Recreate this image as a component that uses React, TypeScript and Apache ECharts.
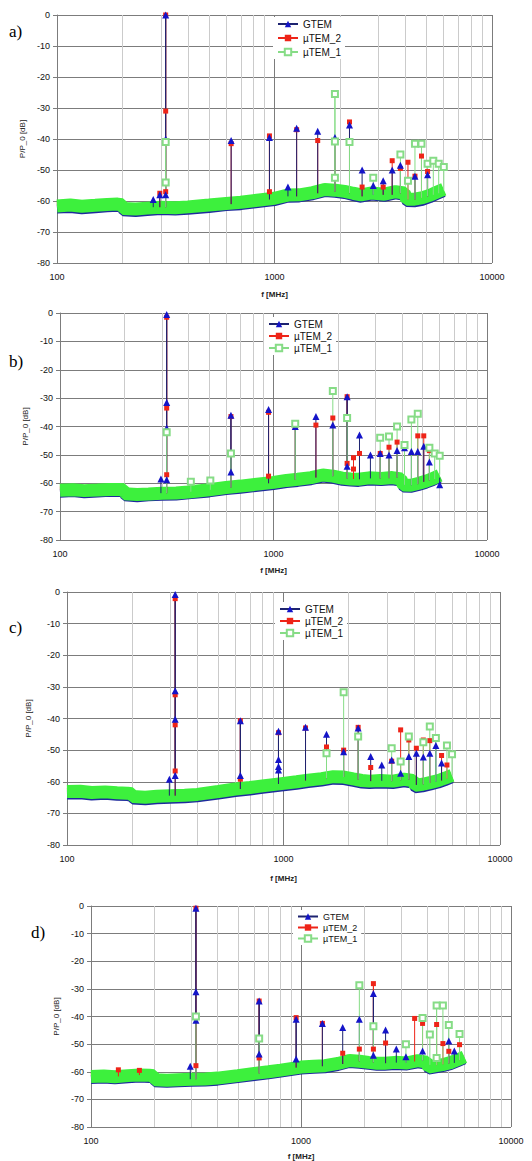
import React, { useEffect, useRef } from "react";
import * as echarts from "echarts";

// ---------- data ----------
const SERIES_NAMES = ["GTEM", "µTEM_2", "µTEM_1"];
const PANEL_LABELS = ["a)", "b)", "c)", "d)"];
const MINOR_F = [200, 300, 400, 500, 600, 700, 800, 900, 2000, 3000, 4000, 5000, 6000, 7000, 8000, 9000];

// noise-floor sample frequencies (MHz)
const FLOOR_F = [100, 115, 130, 150, 170, 190, 199, 201, 230, 260, 300, 350, 400, 500, 600, 700, 800, 1000, 1150, 1300, 1500, 1700, 1900, 2100, 2300, 2500, 2800, 3200, 3600, 3950, 4050, 4400, 4800, 5200, 5600, 6000];

// noise floor, panel a
const FLOOR_UTEM1_A = [-61.6, -61.3, -61.7, -61.4, -61.1, -61.0, -61.2, -62.4, -62.6, -62.3, -62.0, -62.2, -61.9, -61.3, -60.8, -60.4, -59.9, -59.1, -58.1, -58.0, -57.3, -56.3, -56.5, -56.9, -57.5, -58.0, -57.4, -57.8, -57.0, -57.4, -59.4, -59.4, -58.9, -58.1, -57.1, -56.2];
const FLOOR_UTEM2_A = [-62.0, -61.8, -62.1, -61.8, -61.5, -61.4, -61.6, -62.8, -63.0, -62.7, -62.5, -62.6, -62.3, -61.8, -61.2, -60.9, -60.4, -59.6, -58.6, -58.5, -57.8, -56.8, -56.9, -57.4, -58.0, -58.4, -57.9, -58.2, -57.5, -57.9, -59.9, -59.9, -59.4, -58.6, -57.6, -56.7];
const FLOOR_GTEM_A = [-62.6, -62.4, -62.8, -62.5, -62.2, -62.0, -62.3, -63.5, -63.7, -63.4, -63.1, -63.2, -63.0, -62.4, -61.8, -61.5, -61.0, -60.2, -59.1, -59.0, -58.3, -57.3, -57.5, -57.9, -58.6, -59.1, -58.4, -58.8, -58.0, -58.5, -60.5, -60.6, -60.1, -59.2, -58.2, -57.3];

// noise floor, panel b
const FLOOR_UTEM1_B = [-62.5, -62.3, -62.6, -62.4, -62.2, -62.2, -62.3, -63.7, -64.0, -63.8, -63.5, -63.4, -63.1, -62.3, -61.5, -61.0, -60.5, -59.7, -59.0, -58.6, -58.0, -57.1, -57.5, -58.2, -58.5, -58.6, -58.1, -58.3, -58.0, -58.5, -60.6, -60.7, -60.0, -59.2, -58.3, -57.2];
const FLOOR_UTEM2_B = [-62.9, -62.7, -63.0, -62.8, -62.6, -62.6, -62.7, -64.1, -64.4, -64.2, -63.9, -63.8, -63.5, -62.7, -61.9, -61.4, -60.9, -60.1, -59.4, -59.0, -58.4, -57.5, -57.9, -58.6, -58.9, -59.0, -58.5, -58.7, -58.4, -58.9, -61.0, -61.1, -60.4, -59.6, -58.7, -57.6];
const FLOOR_GTEM_B = [-63.5, -63.3, -63.7, -63.4, -63.2, -63.3, -63.4, -64.8, -65.1, -64.8, -64.6, -64.5, -64.1, -63.4, -62.6, -62.1, -61.6, -60.8, -60.1, -59.7, -59.1, -58.2, -58.6, -59.3, -59.6, -59.7, -59.2, -59.4, -59.1, -59.6, -61.7, -61.8, -61.1, -60.3, -59.4, -58.3];

// noise floor, panel c
const FLOOR_UTEM1_C = [-63.1, -63.0, -63.4, -63.2, -63.5, -63.6, -63.8, -64.7, -64.9, -64.6, -64.4, -64.3, -64.0, -63.1, -62.3, -61.8, -61.3, -60.5, -60.0, -59.5, -59.0, -58.4, -58.5, -59.1, -59.6, -59.8, -59.6, -59.8, -59.2, -59.6, -61.1, -60.8, -60.2, -59.6, -58.8, -58.0];
const FLOOR_UTEM2_C = [-63.5, -63.4, -63.8, -63.6, -63.9, -64.0, -64.2, -65.1, -65.3, -65.0, -64.8, -64.7, -64.4, -63.5, -62.7, -62.2, -61.7, -60.9, -60.4, -59.9, -59.4, -58.8, -58.9, -59.5, -60.0, -60.2, -60.0, -60.2, -59.6, -60.0, -61.5, -61.2, -60.6, -60.0, -59.2, -58.4];
const FLOOR_GTEM_C = [-64.2, -64.1, -64.5, -64.3, -64.6, -64.7, -64.9, -65.8, -66.0, -65.7, -65.5, -65.4, -65.1, -64.2, -63.4, -62.9, -62.4, -61.6, -61.1, -60.6, -60.1, -59.5, -59.6, -60.2, -60.7, -60.9, -60.7, -60.9, -60.3, -60.7, -62.2, -61.9, -61.3, -60.7, -59.9, -59.1];

// noise floor, panel d
const FLOOR_UTEM1_D = [-61.7, -61.5, -61.8, -61.4, -61.2, -61.3, -61.4, -62.9, -63.1, -62.9, -62.7, -62.6, -62.3, -61.4, -60.6, -60.0, -59.4, -58.3, -58.0, -57.8, -57.0, -55.9, -56.2, -56.6, -56.9, -56.9, -56.6, -56.8, -56.0, -56.5, -58.3, -57.8, -57.3, -56.6, -55.6, -54.6];
const FLOOR_UTEM2_D = [-62.1, -61.9, -62.2, -61.8, -61.6, -61.7, -61.8, -63.3, -63.5, -63.3, -63.1, -63.0, -62.7, -61.8, -61.0, -60.4, -59.8, -58.7, -58.4, -58.2, -57.4, -56.3, -56.6, -57.0, -57.3, -57.3, -57.0, -57.2, -56.4, -56.9, -58.7, -58.2, -57.7, -57.0, -56.0, -55.0];
const FLOOR_GTEM_D = [-62.8, -62.6, -62.9, -62.5, -62.3, -62.4, -62.5, -64.0, -64.2, -64.0, -63.8, -63.7, -63.4, -62.5, -61.7, -61.1, -60.5, -59.4, -59.1, -58.9, -58.1, -57.0, -57.3, -57.7, -58.0, -58.0, -57.7, -57.9, -57.1, -57.6, -59.4, -58.9, -58.4, -57.7, -56.7, -55.7];

// spikes: [frequency MHz, base level, ...marker levels] (dB)
const SPIKES_GTEM_A = [[277, -62, -59.5], [297, -62, -58], [316, -62, 0, -40, -58], [632, -61, -40.5], [948, -59.5, -39.5], [1153, -58.5, -55.5], [1264, -58.5, -36.5], [1580, -57.5, -37.5], [1896, -57, -39.5], [2212, -57.5, -35.5], [2528, -58.5, -50], [2844, -58, -55], [3160, -58, -53.5], [3476, -58, -50], [3792, -57.5, -48.5], [4424, -59.5, -52], [5056, -58.5, -51.5]];
const SPIKES_UTEM2_A = [[297, -62, -57.5], [316, -62, 0, -31, -57], [632, -61, -41.5], [948, -59.5, -39, -57], [1264, -58.5, -37], [1580, -57.5, -40.5], [1896, -57, -41], [2212, -57.5, -34.5], [2528, -58.5, -55.5], [3160, -58, -55.5], [3476, -58, -47], [3792, -57.5, -49.5], [4108, -59.5, -47.5], [4424, -59.5, -52], [4740, -59, -45.5], [5056, -58.5, -50.5]];
const SPIKES_UTEM1_A = [[316, -62, -41, -54], [1896, -57, -25.5, -40.8, -52.5], [2212, -57.5, -41], [2844, -58, -52.5], [3792, -57.5, -45], [4108, -59.5, -53.5], [4424, -59.5, -41.5], [4740, -59, -41.5], [5056, -58.5, -48], [5372, -58, -47], [5688, -57.5, -48], [6004, -56.5, -49]];

const SPIKES_GTEM_B = [[297, -63.5, -58.5], [316, -63.5, -0.5, -31.5, -40.5, -58.8], [632, -61.5, -36, -56], [948, -60, -34], [1264, -58.8, -40], [1580, -58, -36.5], [1896, -57.5, -39.5], [2212, -58.3, -29.5, -54], [2528, -58.6, -43], [2844, -58.3, -50], [3160, -58.3, -49.5], [3476, -58.2, -50], [3792, -58, -48.5], [4108, -60.6, -47.5], [4424, -60.7, -48.8], [4740, -60.3, -48.8], [5056, -59.5, -47], [5372, -59, -52.5], [6004, -58, -60.5]];
const SPIKES_UTEM2_B = [[316, -63.5, -1.5, -33.5, -57], [632, -61.5, -36.5], [948, -60, -35, -57.5], [1264, -58.8, -40], [1580, -58, -39.5], [1896, -57.5, -37], [2212, -58.3, -29.5, -53], [2370, -58.5, -51, -55], [2528, -58.6, -49.5], [3160, -58.3, -49.5], [3476, -58.2, -47.3], [3792, -58, -45.5], [4740, -60.3, -43.3], [5056, -59.5, -43.3], [5372, -59, -48.5]];
const SPIKES_UTEM1_B = [[316, -63.5, -42], [410, -63, -59.5], [506, -62.3, -59], [632, -61.5, -49.5], [1264, -58.8, -39], [1896, -57.5, -27.5], [2212, -58.3, -37], [3160, -58.3, -44], [3476, -58.2, -43.5], [3792, -58, -40], [4108, -60.6, -46.5], [4424, -60.7, -37.5], [4740, -60.3, -35.5], [5372, -59, -47.5], [5688, -58.5, -49.5], [6004, -57, -50.3]];

const SPIKES_GTEM_C = [[297, -64.4, -59.2], [316, -64.4, -0.8, -31.2, -40.2, -58], [632, -62.3, -40.7, -58], [948, -60.7, -44, -53, -55.2, -56.3], [1264, -59.6, -42.8], [1580, -59, -45], [1896, -58.5, -50.5], [2212, -59.3, -43], [2528, -59.8, -52], [2844, -59.7, -54.7], [3160, -59.8, -53.1], [3476, -59.5, -57.3], [3792, -59.3, -52], [4108, -61, -51], [4424, -60.8, -52.2], [4740, -60.4, -51], [5056, -60, -48.5], [5372, -59.6, -54.1]];
const SPIKES_UTEM2_C = [[316, -64.4, -2.1, -32.5, -42, -56.6], [632, -62.3, -40.7, -59.2], [948, -60.7, -44.5], [1264, -59.6, -43], [1580, -59, -49], [1896, -58.5, -50], [2212, -59.3, -42.8], [2528, -59.8, -55.5], [3160, -59.8, -53.5], [3476, -59.5, -43.6], [3792, -59.3, -46.8], [4108, -61, -49.4], [4424, -60.8, -46.8], [4740, -60.4, -47], [5372, -59.6, -51.7], [5688, -59, -54.7]];
const SPIKES_UTEM1_C = [[1580, -59, -51], [1896, -58.5, -31.7], [2212, -59.3, -45.7], [3160, -59.8, -49.4], [3476, -59.5, -53.6], [3792, -59.3, -45.7], [4424, -60.8, -47.5], [4740, -60.4, -42.5], [5056, -60, -46.2], [5688, -59, -48.5], [6004, -58, -51.3]];

const SPIKES_GTEM_D = [[297, -62.7, -58], [316, -62.7, -0.8, -31, -41.4], [632, -60.6, -34.4, -53.6], [948, -58.5, -41, -55.4], [1264, -58, -42.5], [1580, -57.2, -44], [1896, -56.2, -41], [2212, -56.6, -31.7, -54], [2528, -56.9, -44.9], [2844, -56.7, -51.8], [3160, -56.8, -54.6], [3792, -56, -52.5], [5056, -57, -48.9], [5372, -56.8, -52.5]];
const SPIKES_UTEM2_D = [[135, -61.7, -59.3], [170, -61.2, -59.5], [316, -62.7, -0.8, -40, -57.8], [632, -60.6, -34.4, -55], [948, -58.5, -40.4], [1264, -58, -42.5], [1580, -57.2, -53.3], [1896, -56.2, -51.8], [2212, -56.6, -28.1, -51.8], [2528, -56.9, -49.6], [3476, -56.3, -40.7], [3792, -56, -42.5], [4424, -57.6, -42.9], [4740, -57.3, -49.8], [5056, -57, -52.6], [5688, -55.8, -50.2]];
const SPIKES_UTEM1_D = [[316, -62.7, -40], [632, -60.6, -48], [1896, -56.2, -28.7], [2212, -56.6, -43.5], [3160, -56.8, -50], [3792, -56, -40.5], [4108, -57.5, -46.5], [4424, -57.6, -36, -55], [4740, -57.3, -36], [5056, -57, -43.1], [5688, -55.8, -46.3]];

// ---------- styling / layout ----------
const BLUE_LINE = "#1d2370";
const BLUE_MARK = "#1414c8";
const RED = "#ee2418";
const GREEN_BAND = "#3df03d";
const GREEN_MARK = "#86dc86";
const GRID_DARK = "#7c7c7c";
const GRID_LIGHT = "#cbcbcb";

const PANELS = [
  {
    grid: { left: 57, top: 15, width: 435, height: 248 },
    floors: [FLOOR_GTEM_A, FLOOR_UTEM2_A, FLOOR_UTEM1_A],
    spikes: [SPIKES_GTEM_A, SPIKES_UTEM2_A, SPIKES_UTEM1_A],
    legend: { left: 273, top: 17, gap: 4, size: 10 },
    label: { x: 9, y: 33 },
    yGap: 27, xGap: 27,
  },
  {
    grid: { left: 60, top: 313, width: 427, height: 227 },
    floors: [FLOOR_GTEM_B, FLOOR_UTEM2_B, FLOOR_UTEM1_B],
    spikes: [SPIKES_GTEM_B, SPIKES_UTEM2_B, SPIKES_UTEM1_B],
    legend: { left: 264, top: 317, gap: 2, size: 10 },
    label: { x: 9, y: 363 },
    yGap: 31, xGap: 26,
  },
  {
    grid: { left: 67, top: 592, width: 433, height: 253 },
    floors: [FLOOR_GTEM_C, FLOOR_UTEM2_C, FLOOR_UTEM1_C],
    spikes: [SPIKES_GTEM_C, SPIKES_UTEM2_C, SPIKES_UTEM1_C],
    legend: { left: 275, top: 602, gap: 2, size: 10 },
    label: { x: 9, y: 629 },
    yGap: 35, xGap: 29,
  },
  {
    grid: { left: 91, top: 906, width: 420, height: 222 },
    floors: [FLOOR_GTEM_D, FLOOR_UTEM2_D, FLOOR_UTEM1_D],
    spikes: [SPIKES_GTEM_D, SPIKES_UTEM2_D, SPIKES_UTEM1_D],
    legend: { left: 293, top: 910, gap: 2, size: 9 },
    label: { x: 31, y: 934 },
    yGap: 29, xGap: 25,
  },
];

const STYLES = [
  { line: BLUE_LINE, band: "#1e2a9c", bandWidth: 9, symbol: "triangle", size: 7, item: { color: BLUE_MARK } },
  { line: RED, band: "#e82a20", bandWidth: 10, symbol: "rect", size: 5, item: { color: RED } },
  { line: GREEN_MARK, band: GREEN_BAND, bandWidth: 13, symbol: "emptyRect", size: 6, item: { color: GREEN_MARK, borderWidth: 1 } },
];

function spikeData(spikes: number[][]) {
  const out: any[] = [];
  spikes.forEach((s) => {
    const [f, base, ...marks] = s;
    out.push({ value: [f, base], symbol: "none" });
    marks.forEach((v) => out.push([f, v]));
    out.push([f, "-"]);
  });
  return out;
}

function buildOption() {
  const grid: any[] = [];
  const xAxis: any[] = [];
  const yAxis: any[] = [];
  const series: any[] = [];
  const legend: any[] = [];
  const graphic: any[] = [];

  PANELS.forEach((p, i) => {
    grid.push({ ...p.grid, containLabel: false });
    xAxis.push({
      type: "log",
      logBase: 10,
      min: 100,
      max: 10000,
      gridIndex: i,
      name: "f [MHz]",
      nameLocation: "middle",
      nameGap: p.xGap,
      nameTextStyle: { fontSize: 8, fontWeight: "bold", color: "#222", fontFamily: "Liberation Sans" },
      axisLabel: {
        fontSize: 9,
        color: "#111",
        margin: 9,
        fontFamily: "Liberation Sans",
        formatter: (v: number) => String(Math.round(v)),
      },
      axisLine: { show: true, lineStyle: { color: GRID_DARK } },
      axisTick: { show: true, length: 4, lineStyle: { color: GRID_DARK } },
      splitLine: { show: true, lineStyle: { color: GRID_DARK, width: 1 } },
    });
    yAxis.push({
      type: "value",
      min: -80,
      max: 0,
      interval: 10,
      gridIndex: i,
      name: "P/P_0 [dB]",
      nameLocation: "middle",
      nameRotate: 90,
      nameGap: p.yGap,
      nameTextStyle: { fontSize: 8, color: "#222", fontFamily: "Liberation Sans" },
      axisLabel: { fontSize: 9, color: "#111", margin: 7, fontFamily: "Liberation Sans" },
      axisLine: { show: true, lineStyle: { color: GRID_DARK } },
      axisTick: { show: true, length: 4, lineStyle: { color: GRID_DARK } },
      splitLine: { show: true, lineStyle: { color: GRID_DARK, width: 1 } },
    });

    // minor vertical gridlines
    series.push({
      type: "line",
      name: "minor" + i,
      xAxisIndex: i,
      yAxisIndex: i,
      data: [[100, "-"]],
      symbol: "none",
      silent: true,
      z: 1,
      markLine: {
        silent: true,
        z: 1,
        symbol: ["none", "none"],
        label: { show: false },
        lineStyle: { color: GRID_LIGHT, width: 1, type: "solid" },
        data: MINOR_F.map((f) => ({ xAxis: f })),
      },
    });

    // noise-floor bands: red, blue, green (green on top)
    [1, 0, 2].forEach((k) => {
      series.push({
        type: "line",
        name: SERIES_NAMES[k] + " floor " + i,
        xAxisIndex: i,
        yAxisIndex: i,
        data: FLOOR_F.map((f, j) => [f, p.floors[k][j]]),
        symbol: "none",
        silent: true,
        z: 2,
        lineStyle: { color: STYLES[k].band, width: STYLES[k].bandWidth, cap: "butt", join: "bevel" },
      });
    });

    // spectra with spikes (µTEM_2 under GTEM, µTEM_1 on top)
    [1, 0, 2].forEach((k) => {
      const st = STYLES[k];
      series.push({
        type: "line",
        name: SERIES_NAMES[k],
        xAxisIndex: i,
        yAxisIndex: i,
        data: spikeData(p.spikes[k]),
        symbol: st.symbol,
        symbolSize: st.size,
        showSymbol: true,
        connectNulls: false,
        z: 3,
        lineStyle: { color: st.line, width: 1 },
        itemStyle: st.item,
      });
    });

    legend.push({
      data: SERIES_NAMES,
      orient: "vertical",
      left: p.legend.left,
      top: p.legend.top,
      itemGap: p.legend.gap,
      itemWidth: 20,
      itemHeight: 8,
      padding: [2, 4, 2, 4],
      backgroundColor: "#ffffff",
      selectedMode: false,
      textStyle: { fontSize: p.legend.size, color: "#111", fontFamily: "Liberation Sans" },
    });

    graphic.push({
      type: "text",
      left: p.label.x,
      top: p.label.y - 10,
      style: { text: PANEL_LABELS[i], font: '17px "Liberation Serif"', fill: "#000" },
    });
  });

  return {
    animation: false,
    backgroundColor: "#ffffff",
    grid,
    xAxis,
    yAxis,
    series,
    legend,
    graphic,
  };
}

export default function App() {
  const ref = useRef<HTMLDivElement>(null);
  useEffect(() => {
    document.body.style.margin = "0";
    if (!ref.current) return;
    const chart = echarts.init(ref.current, undefined, { renderer: "svg" });
    chart.setOption(buildOption() as any);
    return () => chart.dispose();
  }, []);
  return <div ref={ref} style={{ width: 532, height: 1161 }} />;
}
